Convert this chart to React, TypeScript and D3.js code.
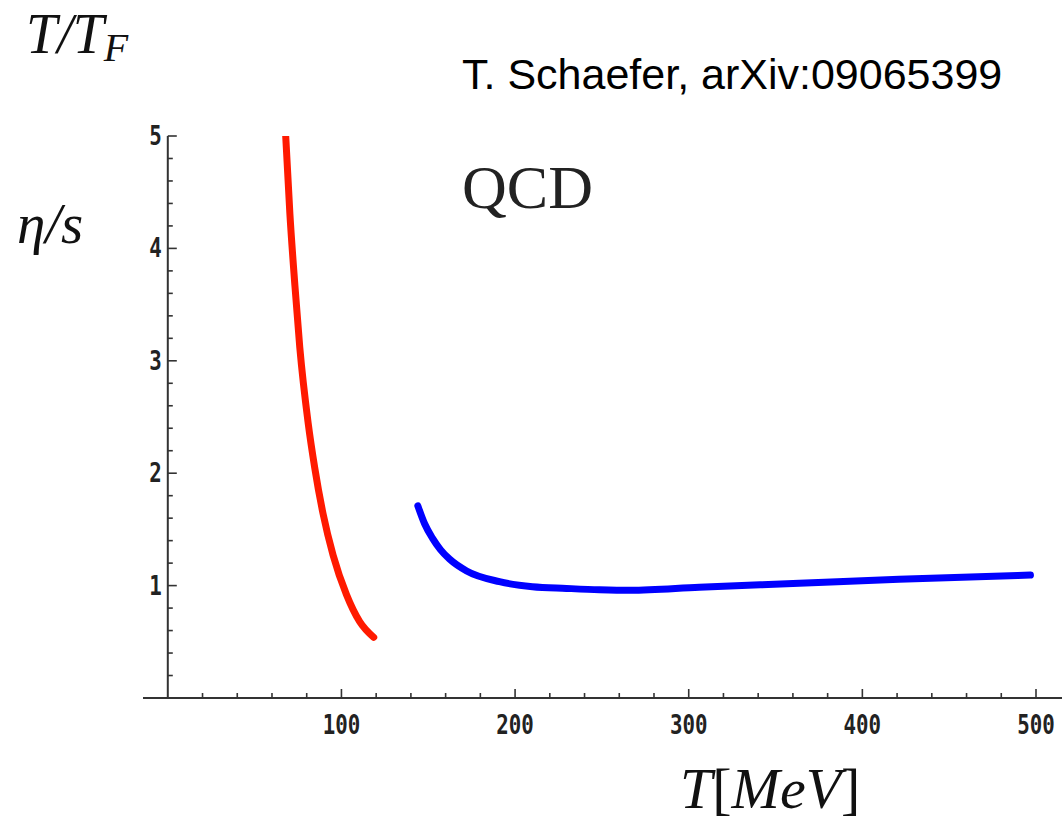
import React from "react";
import * as d3 from "d3";

const redT = [67.9, 70.3, 73.2, 76.0, 80.8, 84.6, 89.4, 95.2, 102.9, 110.5, 118.6];
const redV = [5.0, 4.31, 3.67, 3.12, 2.45, 2.05, 1.64, 1.27, 0.92, 0.68, 0.54];

const blueT = [144.0, 147.9, 152.5, 157.0, 162.3, 172.1, 191.0, 210.0, 229.6, 248.6, 266.4, 306.1, 363.6, 421.1, 496.8];
const blueV = [1.71, 1.55, 1.42, 1.32, 1.235, 1.13, 1.035, 0.99, 0.975, 0.963, 0.958, 0.985, 1.02, 1.056, 1.094];

const xMajor = [100, 200, 300, 400, 500];
const xMinor = d3.range(20, 501, 20);
const yMajor = [1, 2, 3, 4, 5];
const yMinor = d3.range(0.2, 5.0001, 0.2);

export default function App() {
  const x = d3.scaleLinear().domain([0, 500]).range([167.8, 1036]);
  const y = d3.scaleLinear().domain([0, 5]).range([698, 136]);
  const axisY = y(0);
  const line = d3
    .line<[number, number]>()
    .x((d) => x(d[0]))
    .y((d) => y(d[1]))
    .curve(d3.curveMonotoneX);
  const red = redT.map((t, i) => [t, redV[i]] as [number, number]);
  const blue = blueT.map((t, i) => [t, blueV[i]] as [number, number]);
  const axisColor = "#333";
  const tickFont = "'DejaVu Sans Mono', monospace";
  return (
    <svg
      width={1062}
      height={820}
      style={{ position: "absolute", left: 0, top: 0, background: "#fff" }}
    >
      <defs>
        <clipPath id="plotclip">
          <rect x={0} y={y(5)} width={1062} height={820} />
        </clipPath>
      </defs>
      {/* axes */}
      <line x1={143} x2={1062} y1={axisY} y2={axisY} stroke={axisColor} strokeWidth={2} />
      <line x1={x(0)} x2={x(0)} y1={y(5)} y2={axisY} stroke={axisColor} strokeWidth={2} />
      {xMinor.map((t) => {
        const major = xMajor.includes(Math.round(t));
        return (
          <line
            key={"xt" + t}
            x1={x(t)}
            x2={x(t)}
            y1={axisY}
            y2={axisY - (major ? 9 : 5)}
            stroke={axisColor}
            strokeWidth={1.6}
          />
        );
      })}
      {yMinor.map((v) => {
        const major = Math.abs(v - Math.round(v)) < 1e-6;
        return (
          <line
            key={"yt" + v.toFixed(1)}
            x1={x(0)}
            x2={x(0) + (major ? 9 : 5)}
            y1={y(v)}
            y2={y(v)}
            stroke={axisColor}
            strokeWidth={1.6}
          />
        );
      })}
      {xMajor.map((t) => (
        <text
          key={"xl" + t}
          transform={`translate(${x(t)},${axisY + 36}) scale(0.8,1)`}
          textAnchor="middle"
          fontFamily={tickFont}
          fontSize={26}
          fontWeight="bold"
          fill="#222"
        >
          {t}
        </text>
      ))}
      {yMajor.map((v) => (
        <text
          key={"yl" + v}
          transform={`translate(${x(0) - 6},${y(v) + 9}) scale(0.8,1)`}
          textAnchor="end"
          fontFamily={tickFont}
          fontSize={26}
          fontWeight="bold"
          fill="#222"
        >
          {v}
        </text>
      ))}
      {/* curves */}
      <g clipPath="url(#plotclip)">
        <path d={line(red) || ""} fill="none" stroke="#ff1a00" strokeWidth={7} strokeLinecap="round" />
        <path d={line(blue) || ""} fill="none" stroke="#0000ff" strokeWidth={7} strokeLinecap="round" />
      </g>
      {/* labels */}
      <text x={26} y={53} fontFamily="'Liberation Serif', serif" fontStyle="italic" fontSize={56} fill="#111">
        T/T
        <tspan fontSize={40} dy={8}>F</tspan>
      </text>
      <text x={17} y={243} fontFamily="'Liberation Serif', serif" fontStyle="italic" fontSize={57} fill="#111">
        η/s
      </text>
      <text x={462} y={208} fontFamily="'Liberation Serif', serif" fontSize={62} fill="#222">
        QCD
      </text>
      <text x={462} y={89} fontFamily="'Liberation Sans', Arial, sans-serif" fontSize={43} fill="#000">
        T. Schaefer, arXiv:09065399
      </text>
      <text x={680} y={808} fontFamily="'Liberation Serif', serif" fontSize={58} fill="#111">
        <tspan fontStyle="italic">T</tspan>
        <tspan>[</tspan>
        <tspan fontStyle="italic">MeV</tspan>
        <tspan>]</tspan>
      </text>
    </svg>
  );
}
